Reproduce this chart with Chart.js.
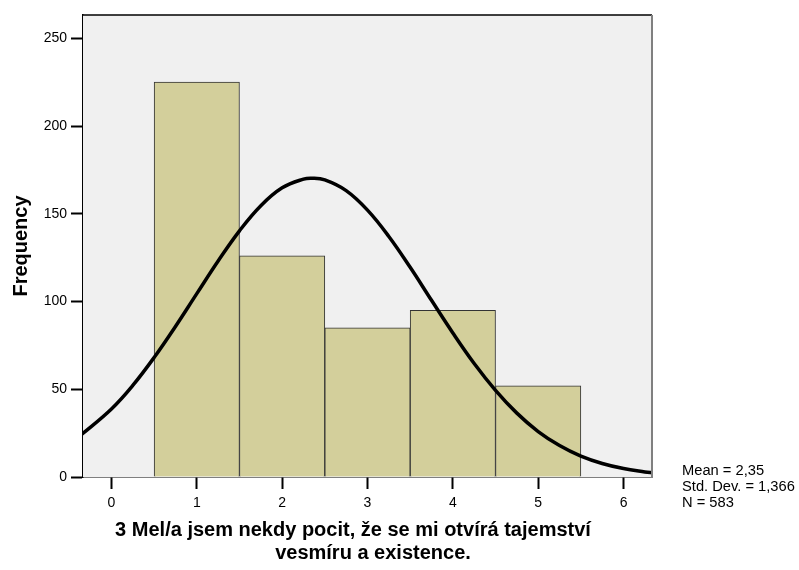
<!DOCTYPE html>
<html>
<head>
<meta charset="utf-8">
<script src="https://cdn.jsdelivr.net/npm/chart.js@4"></script>
<style>
  html, body { margin: 0; padding: 0; background: #fff; }
  #wrap { width: 799px; height: 570px; }
</style>
</head>
<body>
<div id="wrap"><canvas id="hist"></canvas></div>
<script>
// histogram bins and counts
const binCenters = [1, 2, 3, 4, 5];
const counts = [225, 126, 85, 95, 52];

// normal curve
const curveX = [-0.35, 0, 0.25, 0.5, 0.75, 1, 1.25, 1.5, 1.75, 2, 2.25, 2.35, 2.5, 2.75, 3, 3.25, 3.5, 3.75, 4, 4.25, 4.5, 4.75, 5, 5.25, 5.5, 5.75, 6, 6.25, 6.35];
const curveY = [24.2, 38.8, 52.2, 68.1, 85.8, 104.5, 123.1, 140.3, 154.6, 164.8, 169.8, 170.3, 169.3, 163.2, 152.1, 137.1, 119.5, 100.7, 82.1, 64.7, 49.4, 36.4, 25.9, 17.9, 11.9, 7.7, 4.8, 2.9, 2.3];

const yTicks = [0, 50, 100, 150, 200, 250];
const xTicks = [0, 1, 2, 3, 4, 5, 6];

const statsLines = ['Mean = 2,35', 'Std. Dev. = 1,366', 'N = 583'];
const xTitle = ['3 Mel/a jsem nekdy pocit, že se mi otvírá tajemství', 'vesmíru a existence.'];

const FONT = '"Liberation Sans", Arial, sans-serif';

const decor = {
    id: 'decor',
    beforeDatasetsDraw(chart) {
        const a = chart.chartArea, ctx = chart.ctx;
        ctx.save();
        ctx.fillStyle = '#f0f0f0';
        ctx.fillRect(a.left, a.top, a.right - a.left, a.bottom - a.top);
        ctx.restore();
    },
    afterDraw(chart) {
        const a = chart.chartArea, ctx = chart.ctx;
        ctx.save();
        // frame
        ctx.strokeStyle = '#000';
        ctx.lineWidth = 1.5;
        ctx.beginPath();
        ctx.moveTo(a.left, a.top);
        ctx.lineTo(a.right, a.top);
        ctx.stroke();
        ctx.strokeStyle = '#808080';
        ctx.lineWidth = 2;
        ctx.beginPath();
        ctx.moveTo(a.right, a.top);
        ctx.lineTo(a.right, a.bottom);
        ctx.stroke();
        // stats
        ctx.fillStyle = '#000';
        ctx.font = '14.7px ' + FONT;
        ctx.textAlign = 'left';
        ctx.textBaseline = 'alphabetic';
        statsLines.forEach((t, i) => ctx.fillText(t, 682, 475 + i * 16));
        // x title
        ctx.font = 'bold 20px ' + FONT;
        ctx.textAlign = 'center';
        ctx.fillText(xTitle[0], 353, 536);
        ctx.fillText(xTitle[1], 373, 559);
        ctx.restore();
    }
};

new Chart(document.getElementById('hist'), {
    type: 'bar',
    data: {
        datasets: [{
            type: 'line',
            data: curveX.map((x, i) => ({x: x, y: curveY[i]})),
            borderColor: '#000',
            borderWidth: 3.5,
            pointRadius: 0,
            tension: 0.4,
            fill: false,
            order: 1
        }, {
            type: 'bar',
            data: binCenters.map((x, i) => ({x: x, y: counts[i]})),
            backgroundColor: '#d3cf9b',
            borderColor: '#333',
            borderWidth: 1,
            barPercentage: 1,
            categoryPercentage: 1,
            order: 2
        }]
    },
    options: {
        responsive: true,
        maintainAspectRatio: false,
        animation: false,
        layout: { padding: { top: 15, right: 147, left: 0, bottom: 0 } },
        plugins: { legend: { display: false }, tooltip: { enabled: false } },
        scales: {
            x: {
                type: 'linear',
                offset: false,
                min: -1 / 3,
                max: 19 / 3,
                afterBuildTicks(s) { s.ticks = xTicks.map(v => ({value: v})); },
                afterFit(s) { s.height = 93; },
                grid: { offset: false, drawOnChartArea: false, tickLength: 12, tickColor: '#000', tickWidth: 2 },
                border: { color: '#000', width: 1.5 },
                ticks: { color: '#000', font: { family: FONT, size: 14 }, padding: 6, maxRotation: 0 }
            },
            y: {
                min: 0,
                max: 263.3,
                afterBuildTicks(s) { s.ticks = yTicks.map(v => ({value: v})); },
                afterFit(s) { s.width = 83; },
                grid: { drawOnChartArea: false, tickLength: 12, tickColor: '#000', tickWidth: 2 },
                border: { color: '#000', width: 1.5 },
                ticks: { color: '#000', font: { family: FONT, size: 14 }, padding: 4 },
                title: {
                    display: true,
                    text: 'Frequency',
                    color: '#000',
                    font: { family: FONT, size: 20, weight: 'bold' },
                    padding: { top: 9, bottom: 0 }
                }
            }
        }
    },
    plugins: [decor]
});
</script>
</body>
</html>
